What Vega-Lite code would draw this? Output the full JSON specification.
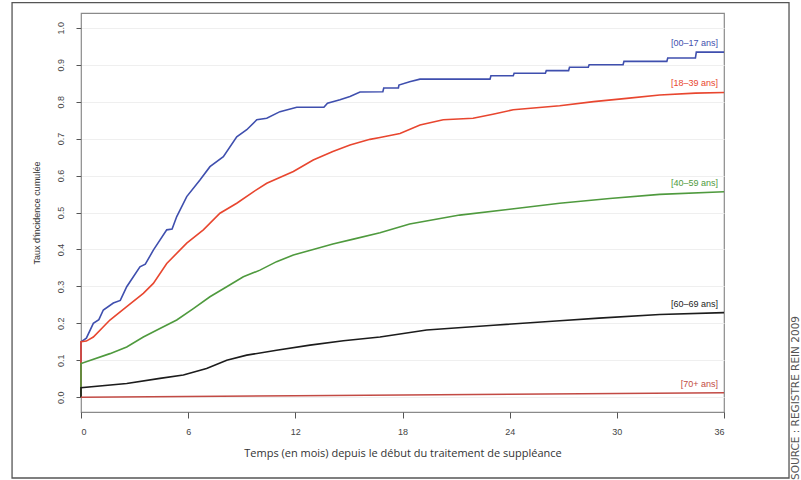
{
  "$schema": "https://vega.github.io/schema/vega-lite/v6.json",
  "width": 643,
  "height": 399,
  "autosize": "none",
  "padding": {"left": 81, "top": 13, "right": 77, "bottom": 68},
  "background": "white",
  "config": {
    "view": {"stroke": "#8a8a8a", "strokeWidth": 1.2},
    "font": "Liberation Sans"
  },
  "resolve": {"axis": {"x": "independent", "y": "independent"}},
  "datasets": {
    "curves": [
      {"g": "00-17", "m": 0, "v": 0}, {"g": "00-17", "m": 0, "v": 0.15}, {"g": "00-17", "m": 0.3, "v": 0.16},
      {"g": "00-17", "m": 0.69, "v": 0.2}, {"g": "00-17", "m": 1.0, "v": 0.21}, {"g": "00-17", "m": 1.25, "v": 0.236},
      {"g": "00-17", "m": 1.81, "v": 0.255}, {"g": "00-17", "m": 2.2, "v": 0.262}, {"g": "00-17", "m": 2.56, "v": 0.299},
      {"g": "00-17", "m": 3.3, "v": 0.353}, {"g": "00-17", "m": 3.6, "v": 0.36}, {"g": "00-17", "m": 4.05, "v": 0.398},
      {"g": "00-17", "m": 4.8, "v": 0.453}, {"g": "00-17", "m": 5.1, "v": 0.455}, {"g": "00-17", "m": 5.36, "v": 0.489},
      {"g": "00-17", "m": 5.92, "v": 0.543}, {"g": "00-17", "m": 6.66, "v": 0.588}, {"g": "00-17", "m": 7.22, "v": 0.624},
      {"g": "00-17", "m": 7.97, "v": 0.651}, {"g": "00-17", "m": 8.72, "v": 0.705}, {"g": "00-17", "m": 9.28, "v": 0.724},
      {"g": "00-17", "m": 9.84, "v": 0.751}, {"g": "00-17", "m": 10.4, "v": 0.755}, {"g": "00-17", "m": 11.14, "v": 0.773},
      {"g": "00-17", "m": 12.08, "v": 0.785}, {"g": "00-17", "m": 13.6, "v": 0.785}, {"g": "00-17", "m": 13.8, "v": 0.796},
      {"g": "00-17", "m": 14.5, "v": 0.805}, {"g": "00-17", "m": 15.06, "v": 0.814}, {"g": "00-17", "m": 15.62, "v": 0.826},
      {"g": "00-17", "m": 16.9, "v": 0.827}, {"g": "00-17", "m": 16.95, "v": 0.837}, {"g": "00-17", "m": 17.77, "v": 0.837},
      {"g": "00-17", "m": 17.8, "v": 0.845}, {"g": "00-17", "m": 18.4, "v": 0.854}, {"g": "00-17", "m": 18.98, "v": 0.861},
      {"g": "00-17", "m": 22.9, "v": 0.861}, {"g": "00-17", "m": 22.95, "v": 0.87}, {"g": "00-17", "m": 24.2, "v": 0.87},
      {"g": "00-17", "m": 24.25, "v": 0.877}, {"g": "00-17", "m": 26.0, "v": 0.877}, {"g": "00-17", "m": 26.05, "v": 0.884},
      {"g": "00-17", "m": 27.3, "v": 0.884}, {"g": "00-17", "m": 27.35, "v": 0.893}, {"g": "00-17", "m": 28.4, "v": 0.893},
      {"g": "00-17", "m": 28.45, "v": 0.9}, {"g": "00-17", "m": 30.35, "v": 0.9}, {"g": "00-17", "m": 30.4, "v": 0.909},
      {"g": "00-17", "m": 32.8, "v": 0.909}, {"g": "00-17", "m": 32.85, "v": 0.918}, {"g": "00-17", "m": 34.4, "v": 0.918},
      {"g": "00-17", "m": 34.45, "v": 0.934}, {"g": "00-17", "m": 36, "v": 0.934},

      {"g": "18-39", "m": 0, "v": 0}, {"g": "18-39", "m": 0, "v": 0.15}, {"g": "18-39", "m": 0.3, "v": 0.152},
      {"g": "18-39", "m": 0.69, "v": 0.163}, {"g": "18-39", "m": 1.62, "v": 0.209}, {"g": "18-39", "m": 2.56, "v": 0.245},
      {"g": "18-39", "m": 3.49, "v": 0.281}, {"g": "18-39", "m": 4.05, "v": 0.308}, {"g": "18-39", "m": 4.8, "v": 0.362},
      {"g": "18-39", "m": 5.92, "v": 0.417}, {"g": "18-39", "m": 6.85, "v": 0.453}, {"g": "18-39", "m": 7.78, "v": 0.498},
      {"g": "18-39", "m": 8.72, "v": 0.525}, {"g": "18-39", "m": 9.65, "v": 0.556}, {"g": "18-39", "m": 10.4, "v": 0.579},
      {"g": "18-39", "m": 11.89, "v": 0.611}, {"g": "18-39", "m": 13, "v": 0.642}, {"g": "18-39", "m": 14.1, "v": 0.665},
      {"g": "18-39", "m": 15.06, "v": 0.683}, {"g": "18-39", "m": 16.18, "v": 0.698}, {"g": "18-39", "m": 16.74, "v": 0.703},
      {"g": "18-39", "m": 17.86, "v": 0.714}, {"g": "18-39", "m": 18.98, "v": 0.737}, {"g": "18-39", "m": 20.28, "v": 0.751},
      {"g": "18-39", "m": 21.95, "v": 0.755}, {"g": "18-39", "m": 23.06, "v": 0.766}, {"g": "18-39", "m": 24.2, "v": 0.778},
      {"g": "18-39", "m": 26.8, "v": 0.789}, {"g": "18-39", "m": 28.7, "v": 0.8}, {"g": "18-39", "m": 30.55, "v": 0.809},
      {"g": "18-39", "m": 32.4, "v": 0.818}, {"g": "18-39", "m": 34.4, "v": 0.823}, {"g": "18-39", "m": 36, "v": 0.825},

      {"g": "40-59", "m": 0, "v": 0}, {"g": "40-59", "m": 0, "v": 0.091}, {"g": "40-59", "m": 1.62, "v": 0.118},
      {"g": "40-59", "m": 2.56, "v": 0.136}, {"g": "40-59", "m": 3.49, "v": 0.163}, {"g": "40-59", "m": 4.42, "v": 0.186},
      {"g": "40-59", "m": 5.36, "v": 0.209}, {"g": "40-59", "m": 6.29, "v": 0.24}, {"g": "40-59", "m": 7.22, "v": 0.272},
      {"g": "40-59", "m": 8.16, "v": 0.299}, {"g": "40-59", "m": 9.09, "v": 0.326}, {"g": "40-59", "m": 10.02, "v": 0.344},
      {"g": "40-59", "m": 10.95, "v": 0.367}, {"g": "40-59", "m": 11.89, "v": 0.385}, {"g": "40-59", "m": 13, "v": 0.4},
      {"g": "40-59", "m": 14.1, "v": 0.415}, {"g": "40-59", "m": 15.25, "v": 0.428}, {"g": "40-59", "m": 16.74, "v": 0.445},
      {"g": "40-59", "m": 18.4, "v": 0.469}, {"g": "40-59", "m": 21.2, "v": 0.493}, {"g": "40-59", "m": 24, "v": 0.509},
      {"g": "40-59", "m": 26.8, "v": 0.525}, {"g": "40-59", "m": 29.6, "v": 0.538}, {"g": "40-59", "m": 32.4, "v": 0.549},
      {"g": "40-59", "m": 36, "v": 0.556},

      {"g": "60-69", "m": 0, "v": 0}, {"g": "60-69", "m": 0, "v": 0.026}, {"g": "60-69", "m": 2.56, "v": 0.037},
      {"g": "60-69", "m": 4.42, "v": 0.051}, {"g": "60-69", "m": 5.73, "v": 0.06}, {"g": "60-69", "m": 7.03, "v": 0.078},
      {"g": "60-69", "m": 8.16, "v": 0.1}, {"g": "60-69", "m": 9.28, "v": 0.114}, {"g": "60-69", "m": 10.95, "v": 0.127},
      {"g": "60-69", "m": 12.82, "v": 0.141}, {"g": "60-69", "m": 14.69, "v": 0.153}, {"g": "60-69", "m": 16.74, "v": 0.163},
      {"g": "60-69", "m": 19.35, "v": 0.182}, {"g": "60-69", "m": 23.1, "v": 0.195}, {"g": "60-69", "m": 26.8, "v": 0.207},
      {"g": "60-69", "m": 29.0, "v": 0.214}, {"g": "60-69", "m": 32.4, "v": 0.224}, {"g": "60-69", "m": 36, "v": 0.229},

      {"g": "70+", "m": 0, "v": 0}, {"g": "70+", "m": 12, "v": 0.004}, {"g": "70+", "m": 24, "v": 0.008},
      {"g": "70+", "m": 36, "v": 0.012}
    ],
    "labels": [
      {"g": "00-17", "label": "[00–17 ans]", "m": 36, "v": 0.934},
      {"g": "18-39", "label": "[18–39 ans]", "m": 36, "v": 0.825},
      {"g": "40-59", "label": "[40–59 ans]", "m": 36, "v": 0.556},
      {"g": "60-69", "label": "[60–69 ans]", "m": 36, "v": 0.229},
      {"g": "70+", "label": "[70+ ans]", "m": 36, "v": 0.012}
    ]
  },
  "layer": [
    {
      "data": {"name": "curves"},
      "mark": {"type": "line", "strokeWidth": 1.6, "clip": false},
      "encoding": {
        "x": {
          "field": "m", "type": "quantitative",
          "scale": {"domain": [0, 36], "nice": false, "zero": false},
          "axis": {
            "title": "Temps (en mois) depuis le début du traitement de suppléance",
            "values": [0, 6, 12, 18, 24, 30, 36],
            "domain": false, "grid": false,
            "tickSize": 6, "tickColor": "#555555",
            "labelFontSize": 9, "labelColor": "#444444", "labelPadding": 9,
            "titleFont": "Open Sans", "titleFontSize": 11, "titleFontWeight": "normal",
            "titleColor": "#333333", "titlePadding": 11
          }
        },
        "y": {
          "field": "v", "type": "quantitative",
          "scale": {"domain": [-0.04, 1.04], "nice": false, "zero": false},
          "axis": {
            "title": "Taux d'incidence cumulée",
            "values": [0, 0.1, 0.2, 0.3, 0.4, 0.5, 0.6, 0.7, 0.8, 0.9, 1.0],
            "format": ".1f",
            "domain": false,
            "grid": true, "gridColor": "#efefef",
            "tickSize": 5, "tickColor": "#555555",
            "labelAngle": 270, "labelAlign": "center", "labelBaseline": "bottom",
            "labelFontSize": 9, "labelColor": "#444444", "labelPadding": 11,
            "titleFontSize": 9, "titleFontWeight": "normal", "titleColor": "#333333",
            "titlePadding": 15
          }
        },
        "color": {
          "field": "g", "type": "nominal",
          "scale": {
            "domain": ["00-17", "18-39", "40-59", "60-69", "70+"],
            "range": ["#3f4fae", "#e8462f", "#4f9a3e", "#1c1c1c", "#c24a44"]
          },
          "legend": null
        },
        "order": {"value": null}
      }
    },
    {
      "data": {"values": [{}]},
      "mark": {"type": "rect", "fill": "transparent", "stroke": "#555555", "strokeWidth": 1.3, "clip": false},
      "encoding": {
        "x": {"datum": -3.86, "type": "quantitative", "axis": null},
        "x2": {"datum": 39.64},
        "y": {"datum": 1.068, "type": "quantitative", "axis": null},
        "y2": {"datum": -0.2186}
      }
    },
    {
      "data": {"name": "labels"},
      "mark": {"type": "text", "align": "right", "baseline": "middle", "dx": -6, "dy": -9, "fontSize": 9},
      "encoding": {
        "x": {"field": "m", "type": "quantitative", "axis": null},
        "y": {"field": "v", "type": "quantitative", "axis": null},
        "text": {"field": "label"},
        "color": {"field": "g", "type": "nominal", "legend": null}
      }
    },
    {
      "data": {"values": [{"src": "SOURCE : REGISTRE REIN 2009"}]},
      "mark": {"type": "text", "angle": 270, "align": "left", "baseline": "middle", "font": "DejaVu Sans", "fontSize": 10.5, "color": "#555555", "clip": false},
      "encoding": {
        "x": {"datum": 40.03, "type": "quantitative", "axis": null},
        "y": {"datum": -0.224, "type": "quantitative", "axis": null},
        "text": {"field": "src"}
      }
    }
  ]
}
